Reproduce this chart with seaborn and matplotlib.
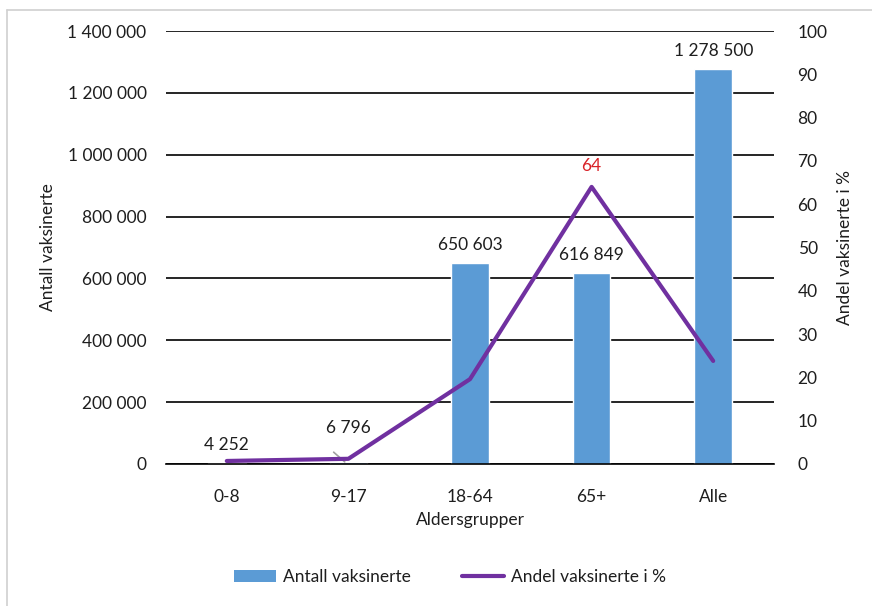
import matplotlib
matplotlib.use("Agg")
import matplotlib.pyplot as plt
from matplotlib.ticker import FuncFormatter, MultipleLocator
from matplotlib.lines import Line2D
from matplotlib.patches import Patch
import pandas as pd
import seaborn as sns

# Vaccination by age group
aldersgrupper = ["0-8", "9-17", "18-64", "65+", "Alle"]
antall_vaksinerte = [4252, 6796, 650603, 616849, 1278500]
andel_prosent = [0.7, 1.2, 19.6, 64, 23.8]
andel_label_index = 3  # only the 65+ share is labelled

bar_color = "#5B9BD5"
line_color = "#7030A0"
label_red = "#D92228"
text_color = "#1E1E1E"
fs = 12.5

sns.set_theme(style="white")
plt.rcParams["font.family"] = ["Lato", "DejaVu Sans"]
plt.rcParams["font.size"] = fs

df = pd.DataFrame({"Aldersgrupper": aldersgrupper,
                   "Antall": antall_vaksinerte,
                   "Andel": andel_prosent})

fig = plt.figure(figsize=(8.72, 6.06), dpi=100)
ax = fig.add_axes([166 / 872, 1 - 464 / 606, (774 - 166) / 872, (464 - 31) / 606])

sns.barplot(data=df, x="Aldersgrupper", y="Antall", color=bar_color,
            width=0.31, saturation=1, ax=ax, zorder=2)
ax.set_ylim(0, 1400000)
ax.yaxis.set_major_locator(MultipleLocator(200000))
ax.yaxis.set_major_formatter(FuncFormatter(lambda v, p: f"{v:,.0f}".replace(",", " ")))
ax.grid(axis="y", color="black", linewidth=1.2, zorder=0)
ax.set_axisbelow(True)
for s in ["top", "right", "left"]:
    ax.spines[s].set_visible(False)
ax.spines["bottom"].set_color("black")
ax.spines["bottom"].set_linewidth(1.2)
ax.tick_params(axis="y", length=0, pad=14, labelsize=fs, colors=text_color)
ax.tick_params(axis="x", length=0, pad=18, labelsize=fs, colors=text_color)
ax.set_xlabel("Aldersgrupper", fontsize=fs, labelpad=5, color=text_color)
ax.set_ylabel("Antall vaksinerte", fontsize=fs, labelpad=8.5, color=text_color)

# Value labels above bars
for i, v in enumerate(antall_vaksinerte):
    txt = f"{v:,}".replace(",", " ")
    if i == 1:
        # small bar: label lifted higher with a short grey leader line
        ax.annotate(txt, xy=(i, v), xytext=(0, 19),
                    textcoords="offset points", ha="center", va="bottom",
                    fontsize=fs, color=text_color)
        ax.annotate("", xy=(i - 0.03, v), xytext=(-8, 7),
                    textcoords="offset points",
                    arrowprops=dict(arrowstyle="-", color="#A0A0A0", lw=1.2,
                                    shrinkA=0, shrinkB=0))
    else:
        ax.annotate(txt, xy=(i, v), xytext=(0, 7), textcoords="offset points",
                    ha="center", va="bottom", fontsize=fs, color=text_color)

ax2 = ax.twinx()
sns.lineplot(data=df, x="Aldersgrupper", y="Andel", color=line_color,
             linewidth=3, ax=ax2, sort=False, zorder=3)
ax2.set_ylim(0, 100)
ax2.yaxis.set_major_locator(MultipleLocator(10))
for s in ["top", "right", "left", "bottom"]:
    ax2.spines[s].set_visible(False)
ax2.tick_params(axis="y", length=0, pad=17, labelsize=fs, colors=text_color)
ax2.set_ylabel("Andel vaksinerte i %", fontsize=fs, labelpad=7, color=text_color)
ax2.annotate(f"{andel_prosent[andel_label_index]:g}",
             xy=(andel_label_index, andel_prosent[andel_label_index]),
             xytext=(0, 9), textcoords="offset points", ha="center",
             va="bottom", fontsize=fs, color=label_red)

# Keep five equal category slots across the plot width
ax.set_xlim(-0.5, len(aldersgrupper) - 0.5)
ax2.set_xlim(-0.5, len(aldersgrupper) - 0.5)

handles = [Patch(facecolor=bar_color, edgecolor="none"),
           Line2D([0], [0], color=line_color, linewidth=3)]
fig.legend(handles, ["Antall vaksinerte", "Andel vaksinerte i %"],
           loc="center", bbox_to_anchor=(450 / 872, 1 - 577 / 606), ncol=2,
           frameon=False, fontsize=fs, handlelength=2.4, handleheight=0.7,
           columnspacing=3.0, handletextpad=0.4, labelcolor=text_color)

# Light outer frame of the chart area
frame_kw = dict(color="#D0D0D0", linewidth=1.2, transform=fig.transFigure)
fig.add_artist(Line2D([7 / 872, 1], [1 - 10 / 606, 1 - 10 / 606], **frame_kw))
fig.add_artist(Line2D([7 / 872, 7 / 872], [0, 1 - 10 / 606], **frame_kw))

fig.savefig("out.png", dpi=100)
